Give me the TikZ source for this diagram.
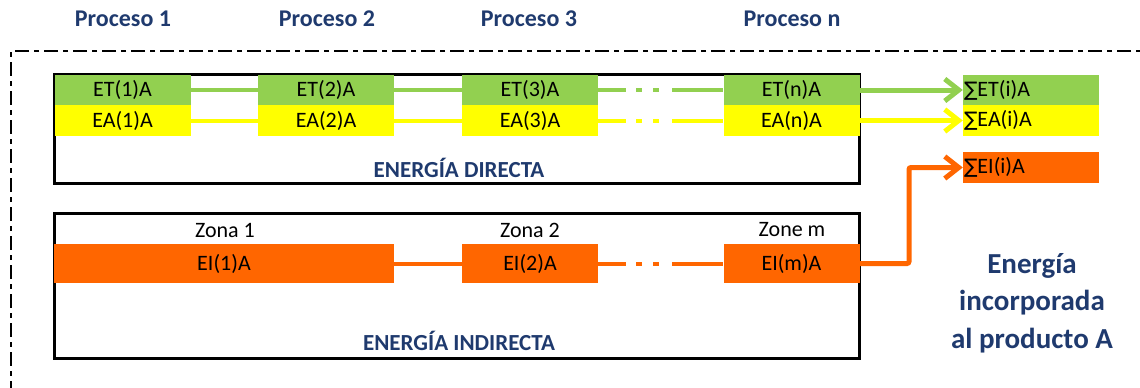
\documentclass[tikz,border=0pt]{standalone}
\usepackage{fontspec}
\setmainfont{Carlito}
\newfontfamily\symfont{DejaVu Sans}
\usetikzlibrary{arrows.meta}

\definecolor{enavy}{HTML}{1F3A6E}
\definecolor{egreen}{HTML}{92D050}
\definecolor{eyellow}{HTML}{FFFF00}
\definecolor{eorange}{HTML}{FF6600}

\newcommand{\msum}{{\symfont\fontsize{20}{22}\selectfont ∑}}

\tikzset{
  cell/.style={minimum width=136pt,inner sep=0pt,font=\fontsize{22}{24}\selectfont},
  etcell/.style={cell,fill=egreen,minimum height=30pt},
  eacell/.style={cell,fill=eyellow,minimum height=31pt},
  eicell/.style={cell,fill=eorange,minimum height=39pt},
  sumcell/.style={text width=134pt,inner xsep=1pt,align=left},
  frame/.style={draw=black,line width=3pt},
  title/.style={text=enavy,font=\bfseries\fontsize{24}{26}\selectfont},
  block/.style={text=enavy,font=\bfseries\fontsize{23}{25}\selectfont},
  link/.style={line width=4pt},
  gap/.style={dash pattern=on 28pt off 10pt on 6pt off 11pt on 6pt off 13pt on 80pt},
  sumarrow/.style={line width=5pt,-{Straight Barb[length=14pt,width=22pt]}}
}

\begin{document}
\begin{tikzpicture}[x=1pt,y=-1pt]
  \useasboundingbox (0,0) rectangle (1140,388);
  % outer frame, cut by the page
  \draw[line width=2pt,dash pattern=on 14pt off 5pt on 5pt off 5pt] (1160,51) -- (11,51) -- (11,400);

  % process titles
  \node[title] (p1) at (123,19) {Proceso 1};
  \node[title] (p2) at (327,19) {Proceso 2};
  \node[title] (p3) at (529,19) {Proceso 3};
  \node[title] (pn) at (792,19) {Proceso n};

  % direct energy
  \draw[frame] (54,74) rectangle (859,183);
  \node[etcell] (et1) at (122.5,90) {ET(1)A};
  \node[etcell] (et2) at (326,90) {ET(2)A};
  \node[etcell] (et3) at (530,90) {ET(3)A};
  \node[etcell] (etn) at (791.5,90) {ET(n)A};
  \node[eacell] (ea1) at (122.5,120.5) {EA(1)A};
  \node[eacell] (ea2) at (326,120.5) {EA(2)A};
  \node[eacell] (ea3) at (530,120.5) {EA(3)A};
  \node[eacell] (ean) at (791.5,120.5) {EA(n)A};
  \node[block] (dir) at (459,168) {ENERGÍA DIRECTA};

  % indirect energy
  \draw[frame] (54,213) rectangle (859,358);
  \node (z1) at (225,230) [font=\fontsize{22}{24}\selectfont] {Zona 1};
  \node (z2) at (530,230) [font=\fontsize{22}{24}\selectfont] {Zona 2};
  \node (zm) at (792,230) [font=\fontsize{22}{24}\selectfont] {Zone m};
  \node[eicell,minimum width=340pt] (ei1) at (224,263.5) {EI(1)A};
  \node[eicell] (ei2) at (530,263.5) {EI(2)A};
  \node[eicell] (eim) at (791.5,263.5) {EI(m)A};
  \node[block] (ind) at (459,341) {ENERGÍA INDIRECTA};

  % totals
  \node[etcell,sumcell] (set) at (1031,90) {\msum ET(i)A};
  \node[eacell,sumcell] (sea) at (1031,120.5) {\msum EA(i)A};
  \node[eicell,sumcell,minimum height=31pt] (sei) at (1031,167.5) {\msum EI(i)A};
  \node[title,font=\bfseries\fontsize{29}{37.5}\selectfont,align=center] (tot) at (1032,303) {Energía\\incorporada\\al producto A};

  % links
  \draw[link,egreen] (et1) -- (et2);
  \draw[link,egreen] (et2) -- (et3);
  \draw[link,egreen,gap] (et3) -- (etn);
  \draw[link,eyellow] (ea1) -- (ea2);
  \draw[link,eyellow] (ea2) -- (ea3);
  \draw[link,eyellow,gap] (ea3) -- (ean);
  \draw[link,eorange] (ei1) -- (ei2);
  \draw[link,eorange,gap] (ei2) -- (eim);
  \draw[sumarrow,egreen] (etn) -- (set);
  \draw[sumarrow,eyellow] (ean) -- (sea);
  \coordinate (bend) at (909,263.5);
  \draw[sumarrow,eorange,rounded corners=2pt] (eim.east) -- (bend) |- (sei.west);
\end{tikzpicture}
\end{document}
